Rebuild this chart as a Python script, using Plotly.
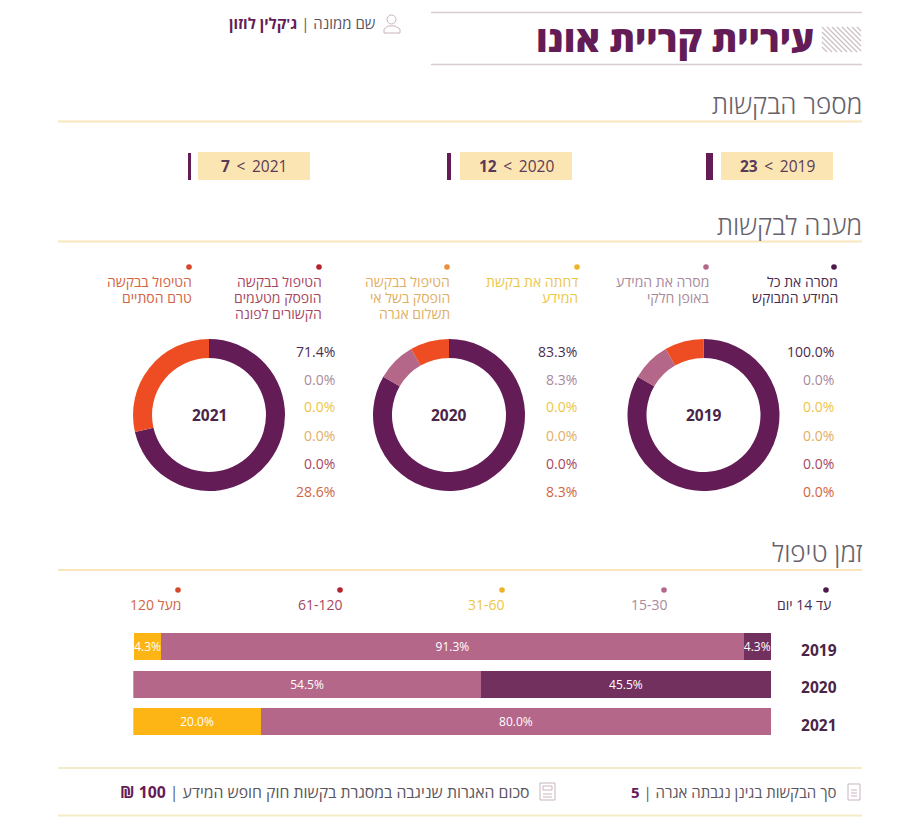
import plotly.graph_objects as go

W, H = 924, 830
FONT = "Open Sans, Liberation Sans, DejaVu Sans, sans-serif"

# ---- data ----
TITLE = "עיריית קריית אונו"
MANAGER_LABEL = "שם ממונה"
MANAGER_NAME = "ג'קלין לוזון"
SECTION_TITLES = ["מספר הבקשות", "מענה לבקשות", "זמן טיפול"]
YEARS = ["2019", "2020", "2021"]
REQUESTS = [23, 12, 7]

ANSWER_CATEGORIES = [
    ["מסרה את כל", "המידע המבוקש"],
    ["מסרה את המידע", "באופן חלקי"],
    ["דחתה את בקשת", "המידע"],
    ["הטיפול בבקשה", "הופסק בשל אי", "תשלום אגרה"],
    ["הטיפול בבקשה", "הופסק מטעמים", "הקשורים לפונה"],
    ["הטיפול בבקשה", "טרם הסתיים"],
]
# printed percentages per year
ANSWER_LABELS_2019 = ["100.0%", "0.0%", "0.0%", "0.0%", "0.0%", "0.0%"]
ANSWER_LABELS_2020 = ["83.3%", "8.3%", "0.0%", "0.0%", "0.0%", "8.3%"]
ANSWER_LABELS_2021 = ["71.4%", "0.0%", "0.0%", "0.0%", "0.0%", "28.6%"]
# slices as drawn in the reference (the 2019 ring is drawn like 2020)
ANSWER_RING_2019 = [83.3, 8.3, 0, 0, 0, 8.3]
ANSWER_RING_2020 = [83.3, 8.3, 0, 0, 0, 8.3]
ANSWER_RING_2021 = [71.4, 0, 0, 0, 0, 28.6]

TIME_CATEGORIES = ["עד 14 יום", "15-30", "31-60", "61-120", "מעל 120"]
TIME_UP_TO_14 = [4.3, 45.5, 0]
TIME_15_30 = [91.3, 54.5, 80.0]
TIME_31_60 = [4.3, 0, 20.0]
TIME_61_120 = [0, 0, 0]
TIME_OVER_120 = [0, 0, 0]

FOOTER_1 = "סך הבקשות בגינן נגבתה אגרה"
FOOTER_1_VALUE = "5"
FOOTER_2 = "סכום האגרות שניגבה במסגרת בקשות חוק חופש המידע"
FOOTER_2_VALUE = "100 ₪"

# ---- style ----
PURPLE = "#641C57"
BAR_PURPLE = "#72305E"
MAUVE = "#B5678A"
YELLOW = "#FDB515"
ORANGE = "#EE4D23"
RING_COLORS = [PURPLE, MAUVE, YELLOW, "#E8913A", "#B7222F", ORANGE]
DOT_COLORS = ["#4E1A4C", "#B5678A", "#EDB32A", "#E8913A", "#B7222F", "#D6472B"]
TEXT_COLORS = ["#4A2C50", "#A98A9C", "#EDC648", "#E2AE64", "#A8475F", "#D2653F"]
LINE_CREAM = "#FBE6BC"
BOX_CREAM = "#FBE5B2"
GREY = "#5A5560"
ICON = "#C9B3BE"
RLM = "\u200f"


def px(x):
    return x / W


def py(y):
    return 1 - y / H


shapes, annos = [], []


def text(x, y, s, size=14, color=GREY, anchor="right", weight=None):
    font = dict(size=size, color=color, family=FONT)
    if weight:
        font["weight"] = weight
    annos.append(dict(x=px(x), y=py(y), xref="paper", yref="paper", text=s, showarrow=False,
                      xanchor=anchor, yanchor="middle", align=anchor,
                      font=font, borderpad=0, borderwidth=0))


def line(x0, y0, x1, y1, color, width=2):
    shapes.append(dict(type="line", xref="paper", yref="paper", x0=px(x0), x1=px(x1), y0=py(y0), y1=py(y1),
                       line=dict(color=color, width=width), layer="below"))


def rect(x0, y0, x1, y1, fill, outline=None, width=1):
    shapes.append(dict(type="rect", xref="paper", yref="paper", x0=px(x0), x1=px(x1), y0=py(y0), y1=py(y1),
                       fillcolor=fill, line=dict(color=outline or fill, width=width if outline else 0), layer="below"))


def circle(cx, cy, r, fill, outline=None, width=1):
    shapes.append(dict(type="circle", xref="paper", yref="paper", x0=px(cx - r), x1=px(cx + r),
                       y0=py(cy - r), y1=py(cy + r), fillcolor=fill,
                       line=dict(color=outline or fill, width=width if outline else 0), layer="below"))


def polyline(points, color, width=1):
    d = "M" + " L".join(f"{px(x):.5f},{py(y):.5f}" for x, y in points)
    shapes.append(dict(type="path", xref="paper", yref="paper", path=d, line=dict(color=color, width=width),
                       fillcolor="rgba(0,0,0,0)", layer="below"))


# ---- header ----
line(431, 12.5, 862, 12.5, "#D8CCD2", 1.5)
line(431, 64.5, 862, 64.5, "#D8CCD2", 1.5)
text(814, 38, TITLE, 36.4, PURPLE, weight=800)
for a in range(797, 862, 5):
    x0, y0, x1, y1 = a, 27, a + 25, 52
    if x0 < 822:
        y0 += 822 - x0
        x0 = 822
    if x1 > 861:
        y1 -= x1 - 861
        x1 = 861
    line(x0, y0, x1, y1, "#CDBFC6", 1.3)
circle(391.5, 19.5, 4.5, "rgba(0,0,0,0)", ICON, 1)
polyline([(384, 33), (384, 29), (388, 26), (395, 26), (400, 29), (400, 33), (384, 33)], ICON, 1)
text(376, 23, f"{MANAGER_LABEL} | <b style='color:{PURPLE}'>{MANAGER_NAME}</b>", 15, GREY)

# ---- section titles ----
for title, ty, ly in zip(SECTION_TITLES, [103.5, 224.5, 551.5], [121.5, 241.5, 570]):
    text(862, ty, title, 26, "#66616A", weight=300)
    line(58, ly, 862, ly, LINE_CREAM, 2)

# ---- requests ----
for year, n, bx, mark0, mark1 in zip(YEARS, REQUESTS, [721, 460, 198], [706, 447, 188], [713, 451, 191]):
    rect(bx, 152, bx + 112, 180, BOX_CREAM)
    rect(mark0, 153, mark1, 180, PURPLE)
    text(bx + 56, 166, f"<b>{n}</b>\u00a0\u2009&lt;\u2009\u00a0{year}", 15.5, "#5B3A55", anchor="center")

# ---- answer legend ----
for rows, tx, dx, dot, col in zip(ANSWER_CATEGORIES, [838, 709, 578, 450, 322, 192],
                                  [834, 706, 577, 447, 319, 189], DOT_COLORS, TEXT_COLORS):
    circle(dx, 267, 2.8, dot)
    for i, row in enumerate(rows):
        text(tx, 281.5 + 15.8 * i, row, 14, col)

# ---- rings ----
traces = []
for year, ring, labels, cx, lx in zip(YEARS, [ANSWER_RING_2019, ANSWER_RING_2020, ANSWER_RING_2021],
                                      [ANSWER_LABELS_2019, ANSWER_LABELS_2020, ANSWER_LABELS_2021],
                                      [703.5, 449, 209], [834, 577, 335]):
    traces.append(go.Pie(values=ring, sort=False, direction="clockwise", rotation=0, hole=0.75,
                         marker=dict(colors=RING_COLORS, line=dict(width=0)), textinfo="none",
                         showlegend=False, hoverinfo="skip",
                         domain=dict(x=[px(cx - 76), px(cx + 76)], y=[py(491), py(339)])))
    text(cx, 415, f"<b>{year}</b>", 15.5, "#4A2548", anchor="center")
    for lab, col, ly in zip(labels, TEXT_COLORS, [351, 379, 407, 435, 463, 491]):
        text(lx, ly, lab, 14, col)

# ---- time legend ----
for cat, tx, dx, dot, col in zip(TIME_CATEGORIES, [831, 668, 505, 343, 181], [826, 664, 502, 340, 178],
                                 DOT_COLORS[:3] + DOT_COLORS[4:], TEXT_COLORS[:3] + TEXT_COLORS[4:]):
    circle(dx, 590, 2.8, dot)
    text(tx, 604, cat, 14, col)

# ---- stacked bars ----
for name, vals, col in zip(TIME_CATEGORIES, [TIME_UP_TO_14, TIME_15_30, TIME_31_60, TIME_61_120, TIME_OVER_120],
                           [BAR_PURPLE, MAUVE, YELLOW, "#B7222F", "#D6472B"]):
    traces.append(go.Bar(y=YEARS, x=vals, orientation="h", name=name, showlegend=False,
                         marker=dict(color=col, line=dict(width=0)),
                         text=[f"{v:.1f}%" if v else "" for v in vals], textposition="inside",
                         insidetextanchor="middle", textangle=0, hoverinfo="skip",
                         textfont=dict(color="#FFFFFF", size=12, family=FONT)))

# ---- footer ----
line(58, 768, 862, 768, "#F4ECC6", 2)
line(58, 815.5, 862, 815.5, "#F4ECC6", 2)
text(837, 792, f"{FOOTER_1} | <b style='color:{PURPLE}'>{FOOTER_1_VALUE}</b>", 15, GREY)
text(530, 792, f"{FOOTER_2} | <b style='color:{PURPLE}'>{FOOTER_2_VALUE}{RLM}</b>", 15.8, GREY)
rect(848, 784, 860, 800, "rgba(0,0,0,0)", ICON, 1)
line(851, 790, 857, 790, ICON, 1)
line(851, 793, 857, 793, ICON, 1)
line(851, 796, 857, 796, ICON, 1)
rect(540, 783, 555, 800, "rgba(0,0,0,0)", ICON, 1)
rect(543, 786, 552, 790, "rgba(0,0,0,0)", ICON, 1)
line(543, 794, 552, 794, ICON, 1)
line(543, 797, 552, 797, ICON, 1)

fig = go.Figure(traces)
fig.update_layout(
    width=W, height=H, margin=dict(l=0, r=0, t=0, b=0), paper_bgcolor="#FFFFFF", plot_bgcolor="#FFFFFF",
    barmode="stack", bargap=0.28, shapes=shapes, annotations=annos, font=dict(family=FONT),
    uniformtext=dict(minsize=12, mode="show"),
    xaxis=dict(domain=[px(133.3), px(771)], range=[100, 0], visible=False, fixedrange=True),
    yaxis=dict(domain=[py(740.25), py(627.75)], side="right", type="category", categoryorder="array",
               categoryarray=YEARS[::-1], showgrid=False, zeroline=False, showline=False, ticks="outside",
               ticklen=26, tickcolor="rgba(0,0,0,0)", ticklabelshift=4,
               tickfont=dict(size=15.5, color="#4A2548", family=FONT, weight="bold")),
)
fig.write_html("out.html", config=dict(displayModeBar=False), post_script="document.body.style.margin='0';")
